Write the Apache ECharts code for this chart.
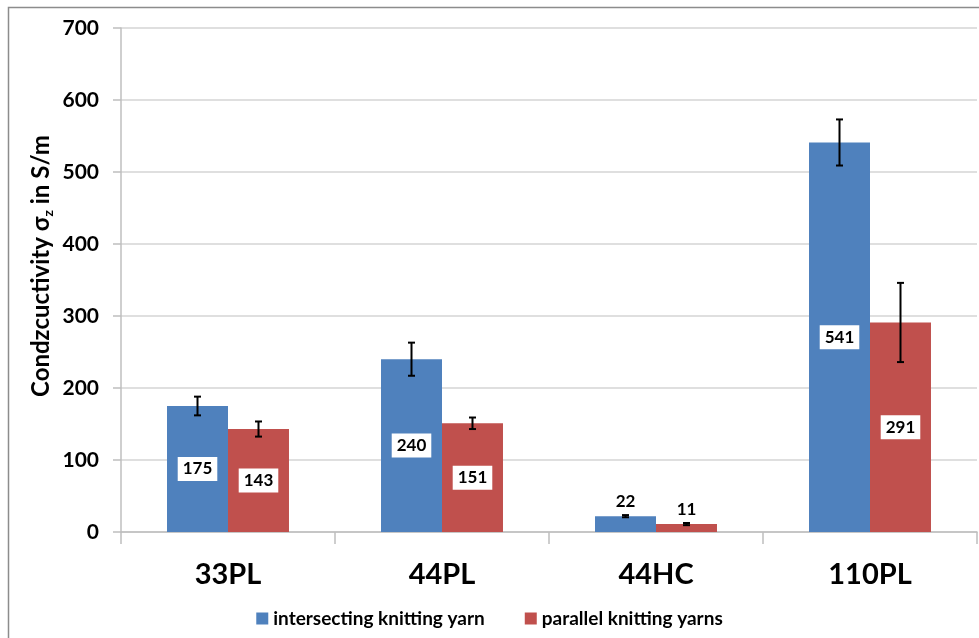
<!DOCTYPE html>
<html>
<head>
<meta charset="utf-8">
<script src="https://cdn.jsdelivr.net/npm/echarts@6/dist/echarts.min.js"></script>
<style>html,body{margin:0;padding:0;background:#fff}#c{width:979px;height:638px}</style>
</head>
<body>
<div id="c"></div>
<script>
const categories = ['33PL', '44PL', '44HC', '110PL'];
const seriesNames = ['intersecting knitting yarn', 'parallel knitting yarns'];
const intersecting = [175, 240, 22, 541];
const intersectingErr = [13, 23, 1.5, 32];
const parallel = [143, 151, 11, 291];
const parallelErr = [10.5, 8, 1.5, 55];
const yTicks = [0, 100, 200, 300, 400, 500, 600, 700];

const FONT = 'Lato';
const colors = ['#4f81bd', '#c0504d'];
const CAT_GAP = 0.43;

function barData(vals) {
  return vals.map(v => {
    if (v < 50) {
      return { value: v, label: { position: 'top', distance: 6, backgroundColor: 'transparent', padding: 0 } };
    }
    return v;
  });
}

function errSeries(vals, errs, idx) {
  return {
    type: 'custom',
    name: seriesNames[idx] + ' err',
    z: 10,
    silent: true,
    data: vals.map((v, i) => [i, v, errs[i]]),
    renderItem: function (params, api) {
      const i = api.value(0), v = api.value(1), e = api.value(2);
      const catW = api.size([1, 0])[0];
      const bw = catW * (1 - CAT_GAP) / 2;
      const c = api.coord([i, v]);
      const x = c[0] + (idx === 0 ? -bw / 2 : bw / 2);
      const top = api.coord([i, v + e])[1];
      const bot = api.coord([i, v - e])[1];
      const cap = 3.5;
      const style = { stroke: '#000', lineWidth: 2 };
      return {
        type: 'group',
        children: [
          { type: 'line', shape: { x1: x, y1: top, x2: x, y2: bot }, style: style },
          { type: 'line', shape: { x1: x - cap, y1: top, x2: x + cap, y2: top }, style: style },
          { type: 'line', shape: { x1: x - cap, y1: bot, x2: x + cap, y2: bot }, style: style }
        ]
      };
    }
  };
}

const labelCfg = {
  show: true,
  position: 'inside',
  color: '#000',
  fontFamily: FONT,
  fontWeight: 'bold',
  fontSize: 17,
  backgroundColor: '#fff',
  padding: [4, 5, 3, 5]
};

const chart = echarts.init(document.getElementById('c'));
chart.setOption({
  animation: false,
  backgroundColor: '#fff',
  textStyle: { fontFamily: FONT },
  graphic: [{
    type: 'rect',
    shape: { x: 8.5, y: 7.5, width: 1000, height: 700 },
    style: { fill: 'none', stroke: '#8c8c8c', lineWidth: 1.5 },
    z: -1
  }],
  grid: { left: 121, right: 2, top: 28, bottom: 106, containLabel: false },
  legend: {
    bottom: 5,
    left: 'center',
    itemWidth: 12,
    itemHeight: 12,
    itemGap: 40,
    icon: 'rect',
    data: seriesNames,
    textStyle: { fontFamily: FONT, fontWeight: 'bold', fontSize: 19, color: '#000' }
  },
  xAxis: {
    type: 'category',
    data: categories,
    axisLine: { lineStyle: { color: '#bfbfbf', width: 1.5 } },
    axisTick: { show: true, length: 12, lineStyle: { color: '#bfbfbf', width: 1.5 } },
    axisLabel: { fontFamily: FONT, fontWeight: 'bold', fontSize: 29, color: '#000', margin: 28 }
  },
  yAxis: {
    type: 'value',
    min: 0,
    max: 700,
    interval: 100,
    name: '{a|Condzcuctivity σ}{s|z}{a| in S/m}',
    nameLocation: 'middle',
    nameGap: 66,
    nameMoveOverlap: false,
    nameTextStyle: {
      padding: [0, 0, 0, 28],
      rich: {
        a: { fontFamily: FONT, fontWeight: 'bold', fontSize: 24, color: '#000' },
        s: { fontFamily: FONT, fontWeight: 'bold', fontSize: 14, color: '#000', verticalAlign: 'bottom', padding: [14, 0, 0, 0] }
      }
    },
    axisLine: { show: true, lineStyle: { color: '#bfbfbf', width: 1.5 } },
    axisTick: { show: true, length: 8, lineStyle: { color: '#bfbfbf', width: 1.5 } },
    axisLabel: {
      fontFamily: FONT, fontWeight: 'bold', fontSize: 21, color: '#000', margin: 22,
      formatter: v => yTicks.includes(v) ? String(v) : ''
    },
    splitLine: { lineStyle: { color: '#d4d4d4', width: 1.5 } }
  },
  series: [
    {
      name: seriesNames[0],
      type: 'bar',
      data: barData(intersecting),
      barGap: '0%',
      barCategoryGap: (CAT_GAP * 100) + '%',
      itemStyle: { color: colors[0] },
      label: labelCfg
    },
    {
      name: seriesNames[1],
      type: 'bar',
      data: barData(parallel),
      barGap: '0%',
      barCategoryGap: (CAT_GAP * 100) + '%',
      itemStyle: { color: colors[1] },
      label: labelCfg
    },
    errSeries(intersecting, intersectingErr, 0),
    errSeries(parallel, parallelErr, 1)
  ]
});
</script>
</body>
</html>
